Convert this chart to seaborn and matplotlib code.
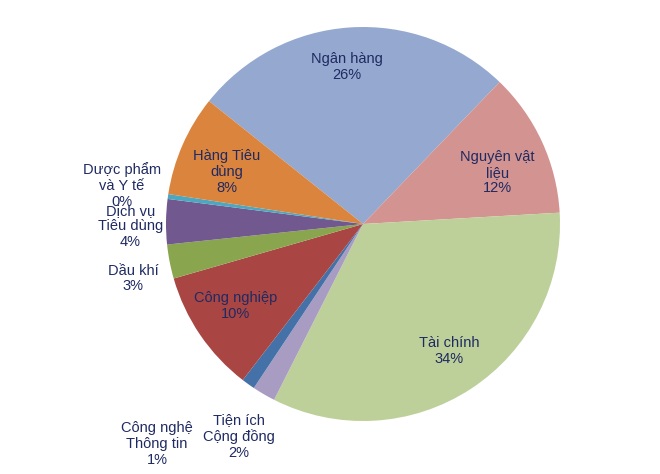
import matplotlib
matplotlib.use("Agg")
import matplotlib.pyplot as plt
import seaborn as sns
import numpy as np

sns.set_theme(style="white")
plt.rcParams['font.family'] = ['Liberation Sans', 'DejaVu Sans']

# sector names and shares (clockwise from "Ngân hàng")
sectors = ["Ngân hàng", "Nguyên vật\nliệu", "Tài chính", "Tiện ích\nCộng đồng",
           "Công nghệ\nThông tin", "Công nghiệp", "Dầu khí", "Dịch vụ\nTiêu dùng",
           "Dược phẩm\nvà Y tế", "Hàng Tiêu\ndùng"]
shares = [26.5, 11.9, 33.4, 1.9, 1.1, 10.1, 2.8, 3.7, 0.4, 8.3]
pct_labels = ["26%", "12%", "34%", "2%", "1%", "10%", "3%", "4%", "0%", "8%"]

colors = ["#95A9D0", "#D29391", "#BDD09A", "#A99CC2", "#4472A8",
          "#A94644", "#89A54E", "#71588F", "#4BA8C0", "#DB843D"]

# label placement: radius (fraction of pie radius) and angle shift (degrees)
label_r = [0.80, 0.73, 0.78, 1.25, 1.53, 0.77, 1.20, 1.18, 1.24, 0.74]
label_shift = [2.2, -3.8, 1.0, -0.1, -7.5, -1.4, 2.3, 1.2, -1.0, 2.8]

fig = plt.figure(figsize=(6.6, 4.74), dpi=100)
ax = fig.add_axes([166 / 660, 53 / 474, 394 / 660, 394 / 474])
wedges, _ = ax.pie(shares, colors=colors, startangle=141.4, counterclock=False,
                   radius=1, wedgeprops=dict(linewidth=0))
ax.set_xlim(-1, 1)
ax.set_ylim(-1, 1)
ax.axis("off")

for w, name, pct, r, sh in zip(wedges, sectors, pct_labels, label_r, label_shift):
    mid = np.deg2rad((w.theta1 + w.theta2) / 2 + sh)
    ax.text(r * np.cos(mid), r * np.sin(mid), f"{name}\n{pct}",
            ha="center", va="center", fontsize=10.5, color="#1F2A62",
            linespacing=1.15, clip_on=False)

fig.savefig("out.png", dpi=100)
